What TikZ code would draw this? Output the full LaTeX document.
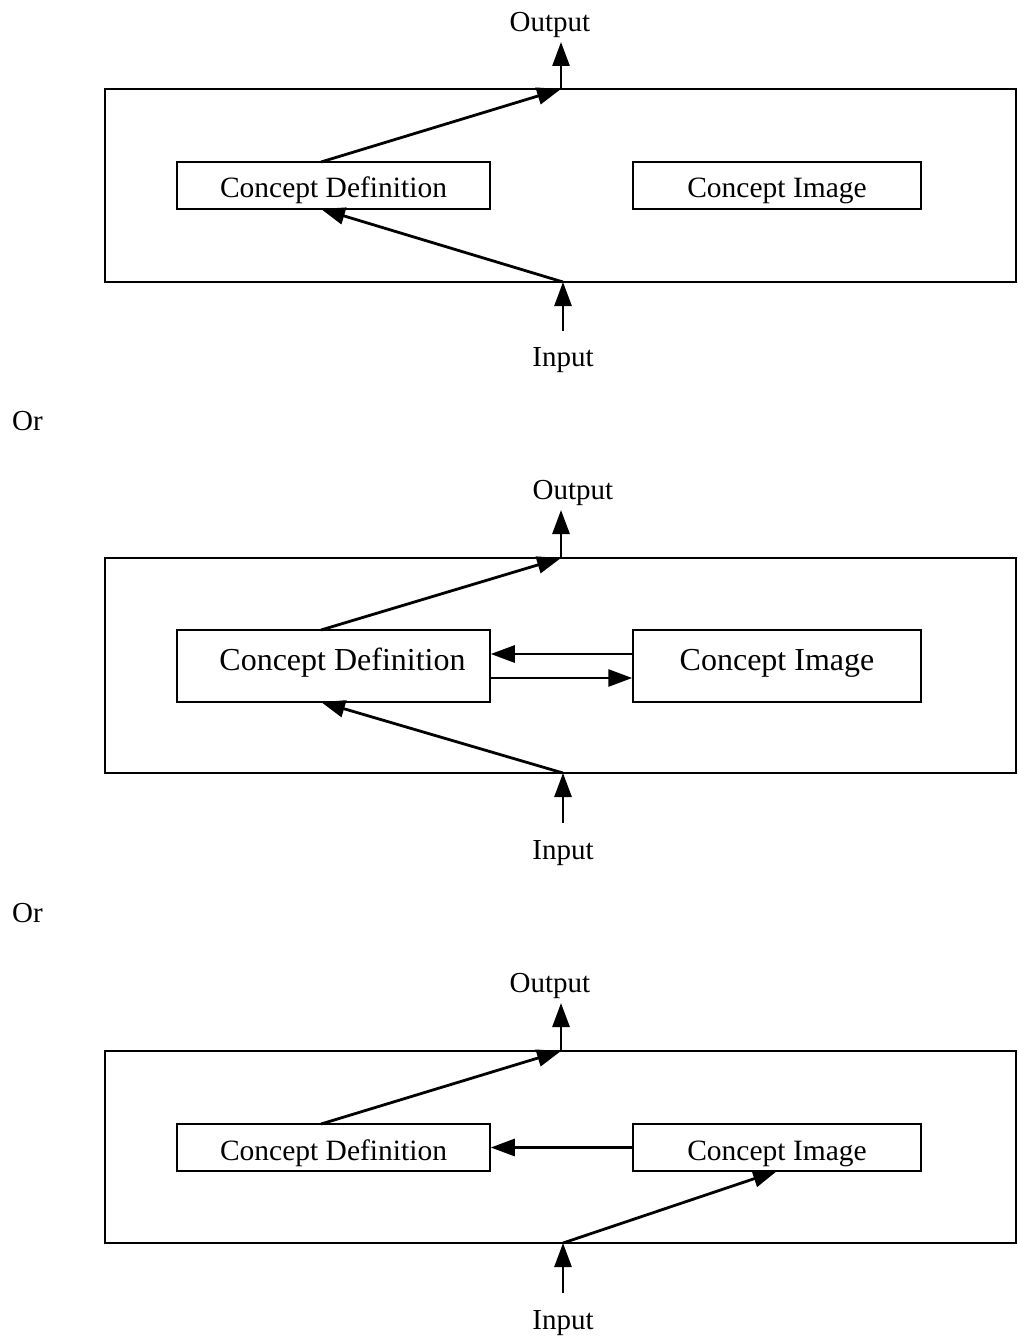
\documentclass[tikz,border=0pt]{standalone}
\usepackage{fontspec}
\setmainfont{Liberation Serif}
\usetikzlibrary{arrows.meta}
\begin{document}
\begin{tikzpicture}[x=1pt,y=-1pt,
  frame/.style={draw,line width=1.5pt,inner sep=0pt,minimum width=911pt,minimum height=193pt},
  cbox/.style={draw,line width=1.5pt,inner sep=0pt,minimum height=47pt,text height=25pt,text depth=0pt,font=\fontsize{29.5}{34}\selectfont},
  bigbox/.style={cbox,minimum height=72pt,text height=22pt,text depth=14pt,font=\fontsize{32}{38}\selectfont},
  lbl/.style={inner sep=0pt,text depth=0pt,font=\fontsize{29}{34}\selectfont},
  arr/.style={line width=2.8pt,-{Triangle[length=24pt,width=17pt]}}]
\useasboundingbox (0,0) rectangle (1017,1337);
% ---------- panel 1 ----------
\node[frame] (outer1) at (560.5,185.5) {};
\node[cbox,minimum width=313pt] (cd1) at (333.5,185.5) {Concept Definition};
\node[cbox,minimum width=288pt] (ci1) at (777,185.5) {Concept Image};
\node[lbl] (outt1) at (550,22) {Output};
\node[lbl] (int1) at (563,357) {Input};
\coordinate (o1) at (561,89);
\coordinate (ot1) at (561,42);
\coordinate (i1) at (563,282);
\coordinate (ib1) at (563,331);
\coordinate (cdt1) at (321,162);
\coordinate (cdb1) at (321,209);
\draw[arr] (o1) -- (ot1);
\draw[arr] (ib1) -- (i1);
\draw[arr] (cdt1) -- (o1);
\draw[arr] (i1) -- (cdb1);
\node[lbl,anchor=west] (or1) at (12,421) {Or};
% ---------- panel 2 ----------
\node[frame,minimum height=215pt] (outer2) at (560.5,665.5) {};
\node[bigbox,minimum width=313pt] (cd2) at (333.5,666) {\hspace*{18pt}Concept Definition};
\node[bigbox,minimum width=288pt] (ci2) at (777,666) {Concept Image};
\node[lbl] (outt2) at (573,490) {Output};
\node[lbl] (int2) at (563,850) {Input};
\coordinate (o2) at (561,558);
\coordinate (ot2) at (561,510);
\coordinate (i2) at (563,773);
\coordinate (ib2) at (563,823);
\coordinate (cdt2) at (321,630);
\coordinate (cdb2) at (321,702);
\draw[arr] (o2) -- (ot2);
\draw[arr] (ib2) -- (i2);
\draw[arr] (cdt2) -- (o2);
\draw[arr] (i2) -- (cdb2);
\draw[arr] (ci2.west |- 0,654) -- (cd2.east |- 0,654);
\draw[arr] (cd2.east |- 0,678) -- (ci2.west |- 0,678);
\node[lbl,anchor=west] (or2) at (12,913) {Or};
% ---------- panel 3 ----------
\node[frame,minimum height=192pt] (outer3) at (560.5,1147) {};
\node[cbox,minimum width=313pt] (cd3) at (333.5,1147.5) {Concept Definition};
\node[cbox,minimum width=288pt] (ci3) at (777,1147.5) {Concept Image};
\node[lbl] (outt3) at (550,983) {Output};
\node[lbl] (int3) at (563,1320) {Input};
\coordinate (o3) at (561,1051);
\coordinate (ot3) at (561,1003);
\coordinate (i3) at (563,1243);
\coordinate (ib3) at (563,1293);
\coordinate (cdt3) at (321,1124);
\coordinate (cib3) at (777,1171);
\draw[arr] (o3) -- (ot3);
\draw[arr] (ib3) -- (i3);
\draw[arr] (cdt3) -- (o3);
\draw[arr] (i3) -- (cib3);
\draw[arr] (ci3.west) -- (cd3.east);
\end{tikzpicture}
\end{document}
